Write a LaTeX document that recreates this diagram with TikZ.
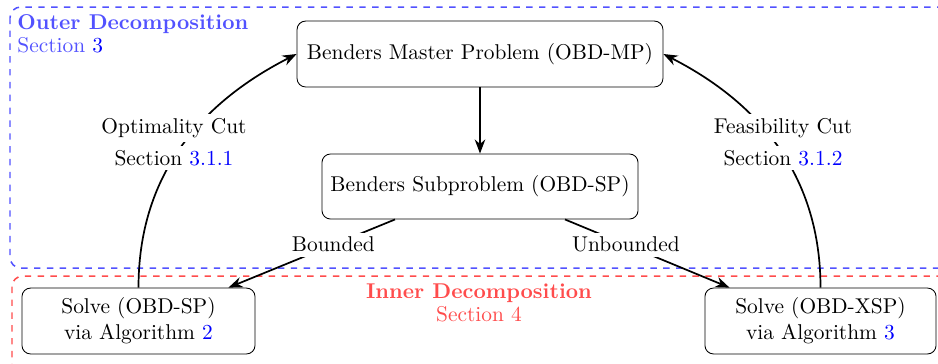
\documentclass[tikz,border=0pt]{standalone}
\usetikzlibrary{arrows.meta,calc}
\definecolor{linkblue}{rgb}{0,0,1}
\colorlet{outercol}{blue!68}
\colorlet{innercol}{red!70}
\tikzset{
  procbox/.style={draw=black, rounded corners=4pt, align=center,
    minimum height=30.8pt, inner sep=3pt},
  flow/.style={thick, -{Stealth}},
  edgelabel/.style={fill=white, inner sep=2pt},
  region/.style={dashed, line width=0.7pt, rounded corners=5pt},
  regiontitle/.style={inner sep=0pt},
}
\begin{document}
\begin{tikzpicture}[x=0.4673pt, y=-0.4673pt]
\useasboundingbox (0,0) rectangle (938,363);
\clip (0,0) rectangle (938,363);

% decomposition regions
\draw[region, outercol] (10,7) rectangle (960,268);
\draw[region, innercol] (12,276) rectangle (960,390);
\node[regiontitle, anchor=north west, align=left, text=outercol] (outertitle) at (17,14)
  {\bfseries Outer Decomposition\\[-1.3pt]Section \textcolor{linkblue}{3}};
\node[regiontitle, anchor=north, align=center, text=innercol] (innertitle) at (479,283)
  {\bfseries Inner Decomposition\\[-1.3pt]Section 4};

% process boxes
\node[procbox, minimum width=171pt] (mp) at (480,54) {Benders Master Problem (OBD-MP)};
\node[procbox, minimum width=147.7pt, minimum height=30.4pt] (sp) at (480,186.5) {Benders Subproblem (OBD-SP)};
\node[procbox, minimum width=108.9pt] (solsp) at (138.5,321) {Solve (OBD-SP)\\via Algorithm \textcolor{linkblue}{2}};
\node[procbox, minimum width=108pt] (solxsp) at (820.5,321) {Solve (OBD-XSP)\\via Algorithm \textcolor{linkblue}{3}};

% connectors
\draw[flow] (mp.south) -- (sp.north);
\draw[flow] (solsp.north) to[out=90, in=207] (mp.west);
\draw[flow] (solxsp.north) to[out=90, in=-27] (mp.east);
\draw[flow] ($(sp.south)+(-85,0)$) -- node[edgelabel, pos=0.37] (bounded) {Bounded} ($(solsp.north east)+(-27,0)$);
\draw[flow] ($(sp.south)+(85,0)$) -- node[edgelabel, pos=0.37] (unbounded) {Unbounded} ($(solxsp.north west)+(25,0)$);

% cut labels
\node[edgelabel] (optcut) at (174,128) {Optimality Cut};
\node[edgelabel] (optsec) at (174,158) {Section \textcolor{linkblue}{3.1.1}};
\node[edgelabel] (feascut) at (783,128) {Feasibility Cut};
\node[edgelabel] (feassec) at (783,158) {Section \textcolor{linkblue}{3.1.2}};
\end{tikzpicture}
\end{document}
